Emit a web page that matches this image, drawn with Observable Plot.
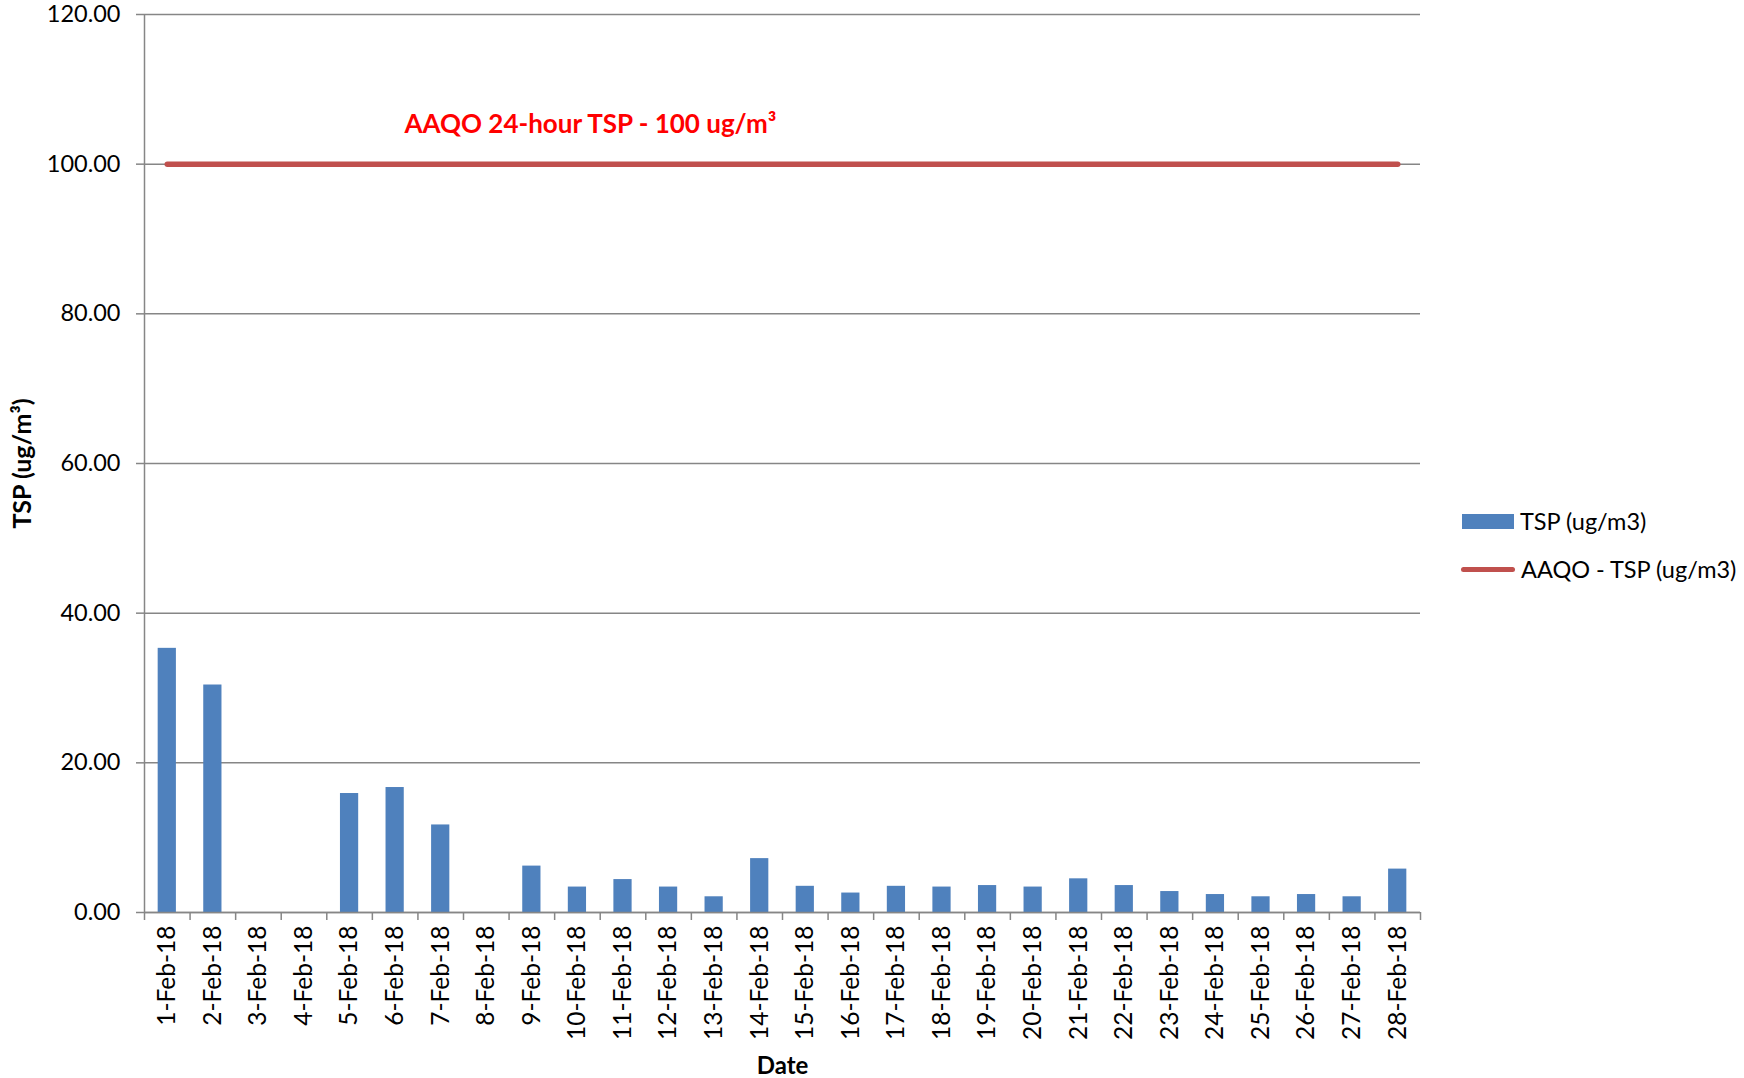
<!DOCTYPE html>
<html><head><meta charset="utf-8">
<script src="https://cdn.jsdelivr.net/npm/d3@7"></script>
<script src="https://cdn.jsdelivr.net/npm/@observablehq/plot@0.6"></script>
<style>
body{margin:0;background:#fff;font-family:Lato,sans-serif;}
#wrap{position:relative;width:1744px;height:1078px;overflow:hidden;}
.leg{position:absolute;font-size:23.5px;color:#000;display:flex;align-items:center;white-space:nowrap;font-family:Lato,sans-serif;}
.sw{display:inline-block;margin-right:6px;}
</style></head><body><div id="wrap"></div>
<script>
const dates = ["1-Feb-18","2-Feb-18","3-Feb-18","4-Feb-18","5-Feb-18","6-Feb-18","7-Feb-18",
  "8-Feb-18","9-Feb-18","10-Feb-18","11-Feb-18","12-Feb-18","13-Feb-18","14-Feb-18",
  "15-Feb-18","16-Feb-18","17-Feb-18","18-Feb-18","19-Feb-18","20-Feb-18","21-Feb-18",
  "22-Feb-18","23-Feb-18","24-Feb-18","25-Feb-18","26-Feb-18","27-Feb-18","28-Feb-18"];
const tsp = [35.3,30.4,0,0,15.9,16.7,11.7,0,6.2,3.4,4.4,3.4,2.1,7.2,
  3.5,2.6,3.5,3.4,3.6,3.4,4.5,3.6,2.8,2.4,2.1,2.4,2.1,5.8];
const aaqo = [100,100,100,100,100,100,100,100,100,100,100,100,100,100,
  100,100,100,100,100,100,100,100,100,100,100,100,100,100];
const yTicks = [0,20,40,60,80,100,120];
const seriesNames = ["TSP (ug/m3)","AAQO - TSP (ug/m3)"];
const annotation = "AAQO 24-hour TSP - 100 ug/m³";
const annotationAt = {date: "10-Feb-18", value: 100};
const yTitle = "TSP (ug/m³)";
const xTitle = "Date";

const data = dates.map((d,i)=>({date:d, tsp:tsp[i], aaqo:aaqo[i]}));
const W=1744,H=1078,mL=144,mR=324,mT=14,mB=166;
const step=(W-mL-mR)/dates.length;
const gray="#868686";
const blue="#4F81BD", red="#C0504D";

const plot = Plot.plot({
  width:W,height:H,marginLeft:mL,marginRight:mR,marginTop:mT,marginBottom:mB,
  style:{fontFamily:"Lato, sans-serif",fontSize:"23px",color:"#000",background:"#fff",overflow:"visible"},
  x:{domain:dates,paddingInner:0.6,paddingOuter:0.3,align:0.5,round:false,label:null},
  y:{domain:[0,120],label:null},
  marks:[
    Plot.gridY(yTicks,{stroke:gray,strokeOpacity:1,strokeWidth:1.5}),
    Plot.barY(data,{x:"date",y:"tsp",fill:blue}),
    Plot.ruleY([0],{stroke:gray,strokeWidth:1.5}),
    Plot.ruleX([dates[0]],{x:d=>d,dx:-step/2,y1:0,y2:120,stroke:gray,strokeWidth:1.5}),
    Plot.ruleX(dates,{x:d=>d,dx:-step/2,y1:0,y2:0,insetBottom:-8,stroke:gray,strokeWidth:1.5}),
    Plot.ruleX([dates[dates.length-1]],{x:d=>d,dx:step/2,y1:0,y2:0,insetBottom:-8,stroke:gray,strokeWidth:1.5}),
    Plot.lineY(data,{x:"date",y:"aaqo",stroke:red,strokeWidth:5.5,strokeLinecap:"round"}),
    Plot.axisY(yTicks,{tickSize:8,tickPadding:16,tickFormat:d3.format(".2f"),stroke:gray,strokeWidth:1.5,fontSize:23.5,label:null}),
    Plot.axisX({tickSize:0,tickPadding:13,tickRotate:-90,fontSize:24.5,label:null}),
    Plot.text([annotation],{x:()=>annotationAt.date,y:()=>annotationAt.value,dy:-39,dx:13,fill:"#FF0000",fontWeight:"bold",fontSize:26}),
    Plot.text([xTitle],{frameAnchor:"bottom",dy:161,fontWeight:"bold",fontSize:24}),
    Plot.text([yTitle],{frameAnchor:"left",textAnchor:"middle",dx:-122,rotate:-90,fontWeight:"bold",fontSize:25})
  ]
});
const wrap=document.getElementById("wrap");
wrap.appendChild(plot);
const l1=document.createElement("div");
l1.className="leg";l1.style.left="1462px";l1.style.top="507px";
l1.innerHTML=`<span class="sw" style="width:52px;height:15px;background:${blue}"></span>${seriesNames[0]}`;
const l2=document.createElement("div");
l2.className="leg";l2.style.left="1461px";l2.style.top="555px";
l2.innerHTML=`<span class="sw" style="width:54px;height:5px;border-radius:3px;background:${red}"></span>${seriesNames[1]}`;
wrap.appendChild(l1);wrap.appendChild(l2);
</script></body></html>
